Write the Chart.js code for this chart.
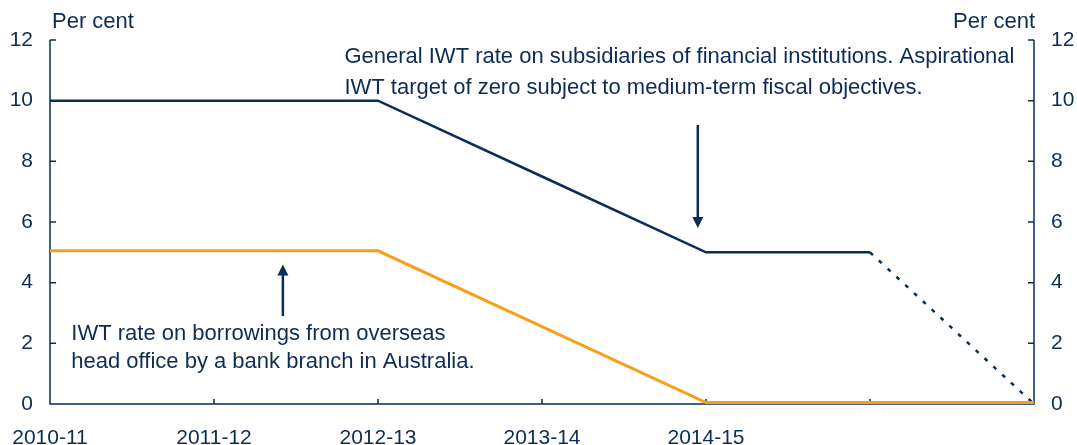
<!DOCTYPE html>
<html><head><meta charset="utf-8">
<script src="https://cdn.jsdelivr.net/npm/chart.js@4.4.1/dist/chart.umd.min.js"></script>
<style>html,body{margin:0;padding:0;background:#fff}#wrap{width:1077px;height:445px}</style>
</head><body><div id="wrap"><canvas id="c" width="1077" height="445"></canvas></div>
<script>
const categories = ['2010-11','2011-12','2012-13','2013-14','2014-15','2015-16','2016-17'];
const xTickLabels = ['2010-11','2011-12','2012-13','2013-14','2014-15','',''];
const generalIWT = [10,10,10,7.5,5,5,0];
const branchIWT = [5,5,5,2.5,0,0,0];
const yTicks = [0,2,4,6,8,10,12];
const noteGeneral = ['General IWT rate on subsidiaries of financial institutions. Aspirational','IWT target of zero subject to medium-term fiscal objectives.'];
const noteBranch = ['IWT rate on borrowings from overseas','head office by a bank branch in Australia.'];

const NAVY = '#0b2c57', ORANGE = '#f6a01a', TXT = '#0d2c55';
const FONT = 'Liberation Sans, Arial, Helvetica, sans-serif';
const FS = 21, FN = 22;

const decor = {
  id: 'decor',
  beforeDatasetsDraw(chart) {
    const {ctx, chartArea: a, scales: {x, y}} = chart;
    ctx.save();
    ctx.strokeStyle = NAVY; ctx.lineWidth = 1.5;
    ctx.beginPath();
    ctx.moveTo(a.left, a.top); ctx.lineTo(a.left, a.bottom); ctx.lineTo(a.right, a.bottom); ctx.lineTo(a.right, a.top);
    yTicks.forEach(v => { const py = y.getPixelForValue(v);
      ctx.moveTo(a.left, py); ctx.lineTo(a.left + 6, py);
      ctx.moveTo(a.right, py); ctx.lineTo(a.right - 6, py); });
    categories.forEach((c, i) => { const px = x.getPixelForValue(i);
      ctx.moveTo(px, a.bottom); ctx.lineTo(px, a.bottom - 5); });
    ctx.stroke();
    ctx.restore();
  },
  beforeDatasetDraw(chart, args) {
    if (args.index === 0) { chart.ctx.save(); chart.ctx.translate(0, -1.5); }
  },
  afterDatasetDraw(chart, args) {
    if (args.index === 0) chart.ctx.restore();
  },
  afterDatasetsDraw(chart) {
    const {ctx, chartArea: a, scales: {x, y}} = chart;
    ctx.save();
    ctx.fillStyle = TXT; ctx.font = FN + 'px ' + FONT; ctx.textBaseline = 'middle';
    ctx.textAlign = 'left';
    ctx.fillText('Per cent', a.left + 2, 22);
    ctx.textAlign = 'right';
    ctx.fillText('Per cent', a.right + 1, 22);
    ctx.textAlign = 'left';
    noteGeneral.forEach((t, i) => ctx.fillText(t, x.getPixelForValue(1.795), y.getPixelForValue(11.35) + i * 31 - 3));
    noteBranch.forEach((t, i) => ctx.fillText(t, x.getPixelForValue(0.13), y.getPixelForValue(2.4) + i * 28 + 3));
    // arrows
    const arrow = (xv, y0, y1) => {
      const px = x.getPixelForValue(xv), p0 = y.getPixelForValue(y0), p1 = y.getPixelForValue(y1);
      const dir = p1 > p0 ? 1 : -1;
      ctx.strokeStyle = NAVY; ctx.fillStyle = NAVY; ctx.lineWidth = 2.5;
      ctx.beginPath(); ctx.moveTo(px, p0); ctx.lineTo(px, p1 - dir * 8); ctx.stroke();
      ctx.beginPath(); ctx.moveTo(px, p1); ctx.lineTo(px - 5.5, p1 - dir * 11); ctx.lineTo(px + 5.5, p1 - dir * 11); ctx.closePath(); ctx.fill();
    };
    arrow(3.95, 9.2, 5.8);
    arrow(1.42, 2.9, 4.6);
    ctx.restore();
  }
};

new Chart(document.getElementById('c'), {
  type: 'line',
  data: {
    labels: categories,
    datasets: [
      { data: branchIWT, borderColor: ORANGE, borderWidth: 3, pointRadius: 0, tension: 0 },
      { data: generalIWT, borderColor: NAVY, borderWidth: 2.5, pointRadius: 0, tension: 0,
        segment: { borderDash: c => c.p0DataIndex === 5 ? [4, 8] : undefined } }
    ]
  },
  options: {
    responsive: false, animation: false, devicePixelRatio: 1,
    layout: { padding: { top: 40, left: 0, right: 0, bottom: 0 } },
    plugins: { legend: { display: false }, tooltip: { enabled: false } },
    clip: false,
    scales: {
      x: {
        offset: false,
        grid: { display: false, drawTicks: false }, border: { display: false },
        ticks: { color: TXT, font: { family: FONT, size: FS }, padding: 22, maxRotation: 0, autoSkip: false,
          callback: (v, i) => xTickLabels[i] },
        afterFit: s => { s.height = 41; s.paddingLeft = 0; s.paddingRight = 0; }
      },
      y: {
        position: 'left', min: 0, max: 12,
        grid: { display: false, drawTicks: false }, border: { display: false },
        afterBuildTicks: s => { s.ticks = yTicks.map(v => ({ value: v })); },
        ticks: { color: TXT, font: { family: FONT, size: FS }, padding: 17 },
        afterFit: s => { s.width = 50; s.paddingTop = 0; s.paddingBottom = 0; }
      },
      y2: {
        position: 'right', min: 0, max: 12,
        grid: { display: false, drawTicks: false }, border: { display: false },
        afterBuildTicks: s => { s.ticks = yTicks.map(v => ({ value: v })); },
        ticks: { color: TXT, font: { family: FONT, size: FS }, padding: 17 },
        afterFit: s => { s.width = 43; s.paddingTop = 0; s.paddingBottom = 0; }
      }
    }
  },
  plugins: [decor]
});
</script></body></html>
